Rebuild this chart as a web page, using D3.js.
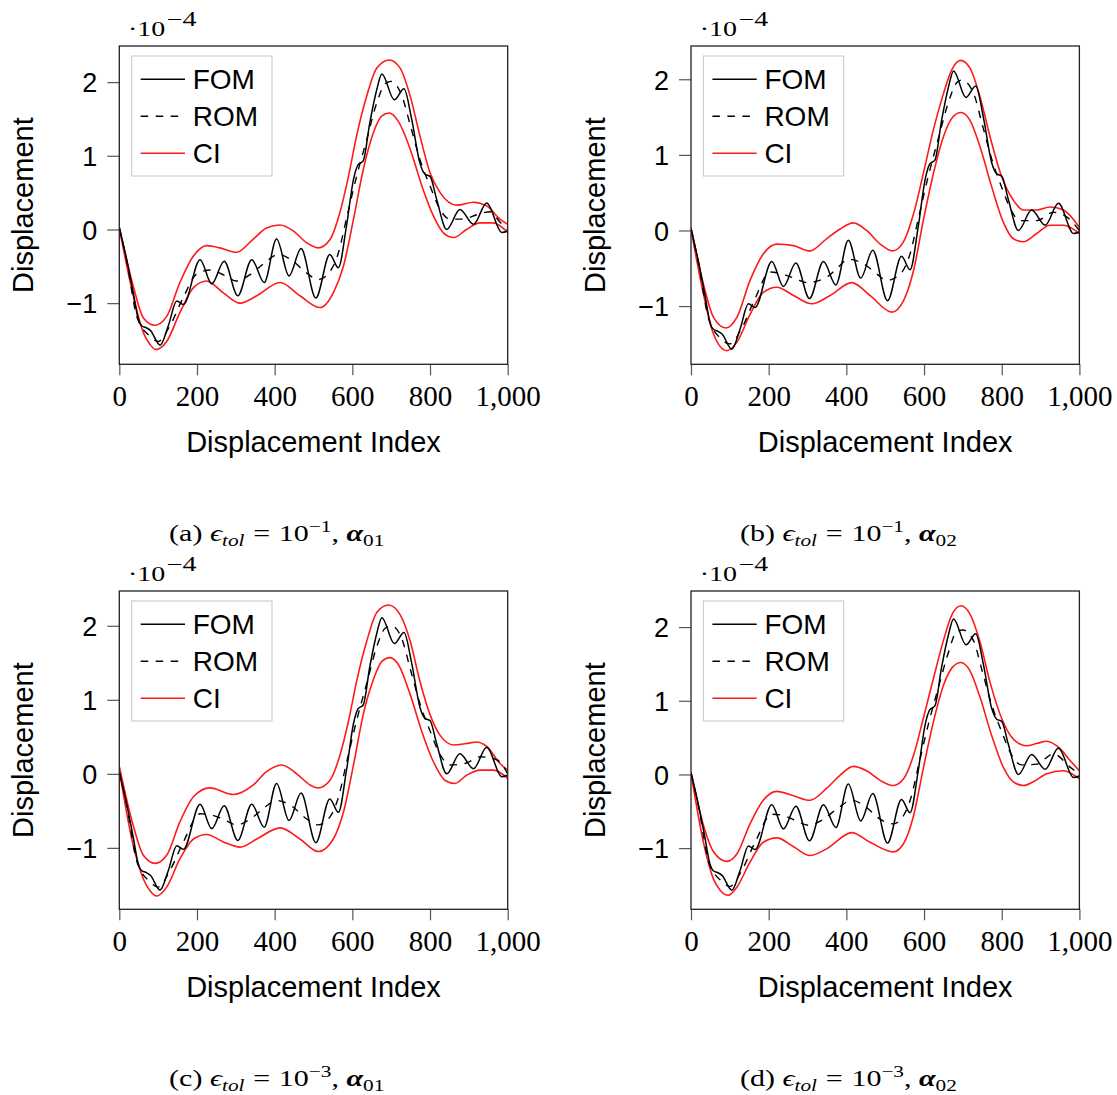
<!DOCTYPE html>
<html>
<head>
<meta charset="utf-8">
<script src="https://cdn.jsdelivr.net/npm/d3@7"></script>
<style>
  html, body { margin: 0; padding: 0; background: #fff; }
  svg { display: block; }
</style>
</head>
<body>
<svg id="chart" width="1117" height="1095"></svg>
<script>
// Axis ticks
const xTicks = [0, 200, 400, 600, 800, 1000];
const yTicks = [-1, 0, 1, 2];

// Legend entries
const seriesNames = ["FOM", "ROM", "CI"];

// Sub-figure captions: letter, tolerance exponent, alpha index
const panelLetters = ["a", "b", "c", "d"];
const tolExponents = ["−1", "−1", "−3", "−3"];
const alphaIds = ["01", "02", "01", "02"];

// Vertical range of each panel (units of 1e-4)
const yDomains = [[-1.83, 2.49], [-1.77, 2.44], [-1.83, 2.47], [-1.83, 2.49]];

// Full-order model displacement, [index, value·1e4]
const fom = [[0,0.02],[19,-0.41],[36,-0.86],[49,-1.22],[58,-1.31],[68,-1.33],[80,-1.37],[105,-1.57],
  [126,-1.31],[148,-0.97],[165,-1.02],[208,-0.41],[238,-0.74],[270,-0.43],[305,-0.90],[341,-0.41],
  [373,-0.72],[405,-0.13],[437,-0.63],[468,-0.26],[506,-0.93],[542,-0.34],[564,-0.52],[585,0.05],
  [603,0.68],[615,0.88],[628,0.93],[645,1.45],[663,1.90],[676,2.11],[708,1.76],[733,1.91],[753,1.49],
  [774,0.90],[787,0.75],[800,0.72],[817,0.41],[843,0.0],[877,0.27],[912,0.07],[946,0.36],[985,-0.04],[1000,-0.02]];

// Reduced-order model mean, one per panel
const romA = [[0,0.02],[20,-0.45],[45,-1.18],[79,-1.45],[100,-1.52],[130,-1.31],[165,-0.92],[200,-0.60],
  [235,-0.55],[270,-0.62],[302,-0.70],[340,-0.60],[375,-0.45],[408,-0.34],[445,-0.42],[480,-0.58],
  [512,-0.68],[545,-0.55],[564,-0.32],[585,0.15],[611,0.72],[637,1.22],[663,1.72],[685,1.98],[700,2.01],
  [727,1.82],[750,1.40],[774,0.95],[800,0.59],[826,0.27],[851,0.14],[886,0.14],[920,0.20],[955,0.24],
  [980,0.10],[1000,0.0]];
const romB = [[0,0.02],[20,-0.45],[45,-1.16],[79,-1.44],[100,-1.50],[130,-1.30],[165,-0.90],[203,-0.55],
  [238,-0.58],[270,-0.64],[298,-0.69],[349,-0.62],[380,-0.48],[405,-0.38],[444,-0.44],[480,-0.58],
  [504,-0.66],[538,-0.58],[564,-0.31],[585,0.15],[611,0.72],[637,1.22],[663,1.70],[685,1.96],[697,1.99],
  [727,1.82],[750,1.40],[774,0.95],[800,0.57],[826,0.25],[847,0.13],[890,0.13],[933,0.24],[967,0.18],
  [1000,0.0]];
const romC = [[0,0.03],[20,-0.45],[45,-1.18],[79,-1.46],[100,-1.53],[130,-1.31],[165,-0.92],[208,-0.54],
  [240,-0.56],[270,-0.62],[302,-0.69],[340,-0.60],[375,-0.45],[405,-0.36],[445,-0.44],[480,-0.60],
  [512,-0.69],[545,-0.56],[564,-0.32],[585,0.15],[611,0.72],[637,1.22],[663,1.72],[685,1.97],[701,2.00],
  [727,1.83],[750,1.40],[774,0.95],[800,0.58],[826,0.26],[851,0.12],[890,0.14],[929,0.23],[972,0.19],
  [1000,0.0]];
const romD = [[0,0.02],[20,-0.45],[45,-1.18],[79,-1.45],[100,-1.52],[130,-1.31],[165,-0.92],[208,-0.54],
  [240,-0.56],[270,-0.63],[302,-0.69],[340,-0.61],[380,-0.45],[414,-0.35],[450,-0.44],[485,-0.60],
  [521,-0.67],[548,-0.55],[566,-0.32],[587,0.15],[613,0.72],[639,1.22],[663,1.66],[684,1.94],[700,1.96],
  [727,1.82],[750,1.40],[774,0.95],[800,0.58],[826,0.26],[851,0.13],[890,0.14],[933,0.28],[976,0.10],
  [1000,0.0]];

// Confidence interval bounds, one pair per panel
const ciUpperA = [[0,0.03],[36,-0.77],[62,-1.20],[92,-1.30],[122,-1.18],[156,-0.72],[191,-0.36],[225,-0.22],
  [259,-0.25],[302,-0.31],[345,-0.13],[379,0.02],[414,0.06],[448,-0.02],[482,-0.18],[512,-0.25],[542,-0.14],
  [568,0.23],[590,0.72],[611,1.27],[637,1.81],[663,2.19],[695,2.30],[723,2.19],[749,1.81],[774,1.27],
  [800,0.77],[826,0.50],[869,0.33],[912,0.37],[946,0.32],[980,0.14],[1000,0.07]];
const ciLowerA = [[0,0.02],[36,-0.90],[62,-1.40],[79,-1.56],[94,-1.63],[122,-1.52],[156,-1.13],[191,-0.79],
  [225,-0.70],[268,-0.86],[311,-1.00],[354,-0.90],[414,-0.72],[465,-0.90],[517,-1.06],[551,-0.86],
  [577,-0.50],[603,0.14],[628,0.81],[654,1.31],[676,1.54],[695,1.58],[718,1.47],[749,1.09],[779,0.59],
  [809,0.18],[835,-0.05],[861,-0.11],[894,0.0],[929,0.09],[963,0.09],[1000,-0.04]];
const ciUpperB = [[0,0.04],[32,-0.71],[58,-1.15],[90,-1.29],[118,-1.15],[152,-0.66],[186,-0.31],[221,-0.18],
  [264,-0.20],[306,-0.27],[349,-0.11],[384,0.02],[418,0.10],[452,0.0],[487,-0.18],[519,-0.27],[547,-0.15],
  [573,0.22],[598,0.75],[624,1.33],[650,1.81],[671,2.12],[694,2.25],[718,2.15],[744,1.77],[770,1.24],
  [800,0.71],[830,0.40],[856,0.27],[890,0.27],[924,0.31],[959,0.27],[1000,0.04]];
const ciLowerB = [[0,0.02],[32,-0.84],[58,-1.37],[92,-1.59],[118,-1.48],[152,-1.11],[186,-0.82],[221,-0.75],
  [264,-0.86],[311,-0.97],[358,-0.86],[414,-0.69],[461,-0.86],[517,-1.08],[547,-0.93],[573,-0.53],
  [598,0.13],[624,0.75],[650,1.24],[674,1.50],[695,1.56],[718,1.46],[744,1.11],[774,0.58],[804,0.11],
  [830,-0.11],[856,-0.15],[890,-0.04],[924,0.07],[959,0.07],[1000,-0.04]];
const ciUpperC = [[0,0.10],[36,-0.70],[62,-1.10],[92,-1.21],[122,-1.10],[156,-0.65],[191,-0.31],[233,-0.19],
  [294,-0.28],[345,-0.15],[379,0.03],[418,0.12],[457,0.0],[491,-0.15],[512,-0.19],[542,-0.09],[568,0.25],
  [590,0.71],[611,1.25],[637,1.79],[663,2.18],[693,2.28],[723,2.15],[749,1.79],[774,1.25],[800,0.80],
  [826,0.52],[861,0.39],[894,0.41],[920,0.43],[946,0.37],[980,0.14],[1000,0.05]];
const ciLowerC = [[0,0.05],[36,-0.97],[62,-1.42],[79,-1.58],[96,-1.65],[122,-1.53],[156,-1.15],[191,-0.88],
  [225,-0.82],[268,-0.92],[311,-0.99],[354,-0.88],[414,-0.73],[465,-0.88],[512,-1.05],[551,-0.88],
  [577,-0.52],[603,0.12],[628,0.80],[654,1.27],[676,1.52],[697,1.57],[718,1.48],[749,1.07],[779,0.57],
  [809,0.16],[839,-0.09],[864,-0.13],[894,-0.02],[929,0.05],[963,0.05],[1000,-0.06]];
const ciUpperD = [[0,0.03],[32,-0.69],[58,-1.05],[92,-1.18],[118,-1.08],[152,-0.67],[186,-0.35],[221,-0.23],
  [264,-0.29],[306,-0.35],[349,-0.19],[384,-0.01],[418,0.11],[452,0.05],[487,-0.08],[519,-0.15],[547,-0.06],
  [573,0.26],[598,0.76],[624,1.30],[650,1.82],[671,2.16],[695,2.29],[718,2.18],[744,1.80],[770,1.25],
  [800,0.76],[830,0.48],[864,0.39],[890,0.42],[916,0.45],[950,0.35],[976,0.19],[1000,0.05]];
const ciLowerD = [[0,0.02],[32,-0.92],[58,-1.42],[75,-1.57],[96,-1.64],[118,-1.53],[152,-1.19],[186,-0.92],
  [221,-0.86],[264,-0.98],[306,-1.10],[349,-1.01],[414,-0.79],[461,-0.92],[521,-1.05],[547,-0.94],
  [573,-0.56],[598,0.08],[624,0.71],[650,1.21],[674,1.46],[695,1.52],[718,1.41],[744,1.05],[774,0.53],
  [804,0.10],[830,-0.10],[856,-0.15],[881,-0.10],[916,0.01],[959,0.05],[1000,-0.06]];

const romSets = [romA, romB, romC, romD];
const ciUpperSets = [ciUpperA, ciUpperB, ciUpperC, ciUpperD];
const ciLowerSets = [ciLowerA, ciLowerB, ciLowerC, ciLowerD];

// ---- layout ----
const frameW = 388.4, frameH = 318.3;
const origins = [[119.3, 46], [691, 46], [119.3, 591], [691, 591]];
const SANS = "'Liberation Sans', Arial, Helvetica, sans-serif";
const SERIF = "'Liberation Serif', 'Times New Roman', serif";
const RED = "#ff1a1a";

const svg = d3.select("#chart");

panelLetters.forEach((letter, i) => {
  const [ox, oy] = origins[i];
  const g = svg.append("g").attr("transform", `translate(${ox},${oy})`);

  const x = d3.scaleLinear().domain([0, 1000]).range([0, frameW]);
  const y = d3.scaleLinear().domain(yDomains[i]).range([frameH, 0]);

  const line = d3.line()
    .x(d => x(d[0]))
    .y(d => y(d[1]))
    .curve(d3.curveMonotoneX);

  // clip
  const clipId = `clip-${letter}`;
  g.append("clipPath").attr("id", clipId)
    .append("rect").attr("width", frameW).attr("height", frameH);

  // axes
  const xAxis = g.append("g")
    .attr("transform", `translate(0,${frameH})`)
    .call(d3.axisBottom(x).tickValues(xTicks).tickFormat(d3.format(",")).tickSize(11).tickSizeOuter(0));
  xAxis.select(".domain").remove();
  xAxis.selectAll(".tick line").attr("stroke", "#555").attr("stroke-width", 1.2);
  xAxis.selectAll(".tick text")
    .attr("font-family", SERIF).attr("font-size", 29).attr("fill", "#000")
    .attr("y", 21).attr("dy", "0.71em")
    .attr("text-anchor", "middle");

  const yAxis = g.append("g")
    .call(d3.axisLeft(y).tickValues(yTicks).tickFormat(d3.format("d")).tickSize(12).tickSizeOuter(0));
  yAxis.select(".domain").remove();
  yAxis.selectAll(".tick line").attr("stroke", "#555").attr("stroke-width", 1.2);
  yAxis.selectAll(".tick text")
    .attr("font-family", SANS).attr("font-size", 27).attr("fill", "#000")
    .attr("x", -22).attr("dy", "0.36em");

  // data lines
  const plot = g.append("g").attr("clip-path", `url(#${clipId})`);
  plot.append("path").datum(ciUpperSets[i])
    .attr("d", line).attr("fill", "none").attr("stroke", RED).attr("stroke-width", 1.6);
  plot.append("path").datum(ciLowerSets[i])
    .attr("d", line).attr("fill", "none").attr("stroke", RED).attr("stroke-width", 1.6);
  plot.append("path").datum(fom)
    .attr("d", line).attr("fill", "none").attr("stroke", "#000").attr("stroke-width", 1.5);
  plot.append("path").datum(romSets[i])
    .attr("d", line).attr("fill", "none").attr("stroke", "#000").attr("stroke-width", 1.4)
    .attr("stroke-dasharray", "7.5,7.5");

  // frame
  g.append("rect").attr("width", frameW).attr("height", frameH)
    .attr("fill", "none").attr("stroke", "#222").attr("stroke-width", 1.3);

  // legend
  const lg = g.append("g").attr("transform", "translate(12.4,10)");
  lg.append("rect").attr("width", 140.3).attr("height", 120)
    .attr("fill", "#fff").attr("stroke", "#cfcfcf").attr("stroke-width", 1.2);
  const styles = [
    { stroke: "#000", dash: null },
    { stroke: "#000", dash: "7.5,7.5" },
    { stroke: RED, dash: null }
  ];
  seriesNames.forEach((name, k) => {
    const cy = 23.3 + k * 37;
    lg.append("line").attr("x1", 9).attr("x2", 53.3).attr("y1", cy).attr("y2", cy)
      .attr("stroke", styles[k].stroke).attr("stroke-width", 1.5)
      .attr("stroke-dasharray", styles[k].dash);
    lg.append("text").attr("x", 61).attr("y", cy).attr("dy", "0.36em")
      .attr("font-family", SANS).attr("font-size", 28).attr("fill", "#000")
      .text(name);
  });

  // axis titles
  g.append("text")
    .attr("transform", `translate(-86.3,${frameH / 2}) rotate(-90)`)
    .attr("text-anchor", "middle")
    .attr("font-family", SANS).attr("font-size", 29).attr("fill", "#000")
    .text("Displacement");
  g.append("text")
    .attr("x", frameW / 2).attr("y", frameH + 88)
    .attr("text-anchor", "middle")
    .attr("font-family", SANS).attr("font-size", 29).attr("fill", "#000")
    .text("Displacement Index");

  // scale factor above the y axis
  const sf = g.append("text")
    .attr("transform", `translate(8.7,-10) scale(1.4,1)`)
    .attr("font-family", SERIF).attr("font-size", 20).attr("fill", "#000");
  sf.append("tspan").text("·10");
  sf.append("tspan").attr("dx", 1).attr("dy", -10).text("−4");

  // caption
  const cap = g.append("text")
    .attr("transform", `translate(157.4,${frameH + 176.7}) scale(1.25,1)`)
    .attr("text-anchor", "middle")
    .attr("font-family", SERIF).attr("font-size", 24).attr("fill", "#000");
  cap.append("tspan").text(`(${letter}) `);
  cap.append("tspan").attr("font-style", "italic").text("ϵ");
  cap.append("tspan").attr("font-style", "italic").attr("font-size", 17).attr("dy", 5).text("tol");
  cap.append("tspan").attr("dy", -5).attr("dx", 7).text("=");
  cap.append("tspan").attr("dx", 7).text("10");
  cap.append("tspan").attr("font-size", 17).attr("dy", -9).text(tolExponents[i]);
  cap.append("tspan").attr("dy", 9).text(", ");
  cap.append("tspan").attr("font-style", "italic").attr("font-weight", "bold").text("α");
  cap.append("tspan").attr("font-size", 17).attr("dy", 5).text(alphaIds[i]);
});
</script>
</body>
</html>
